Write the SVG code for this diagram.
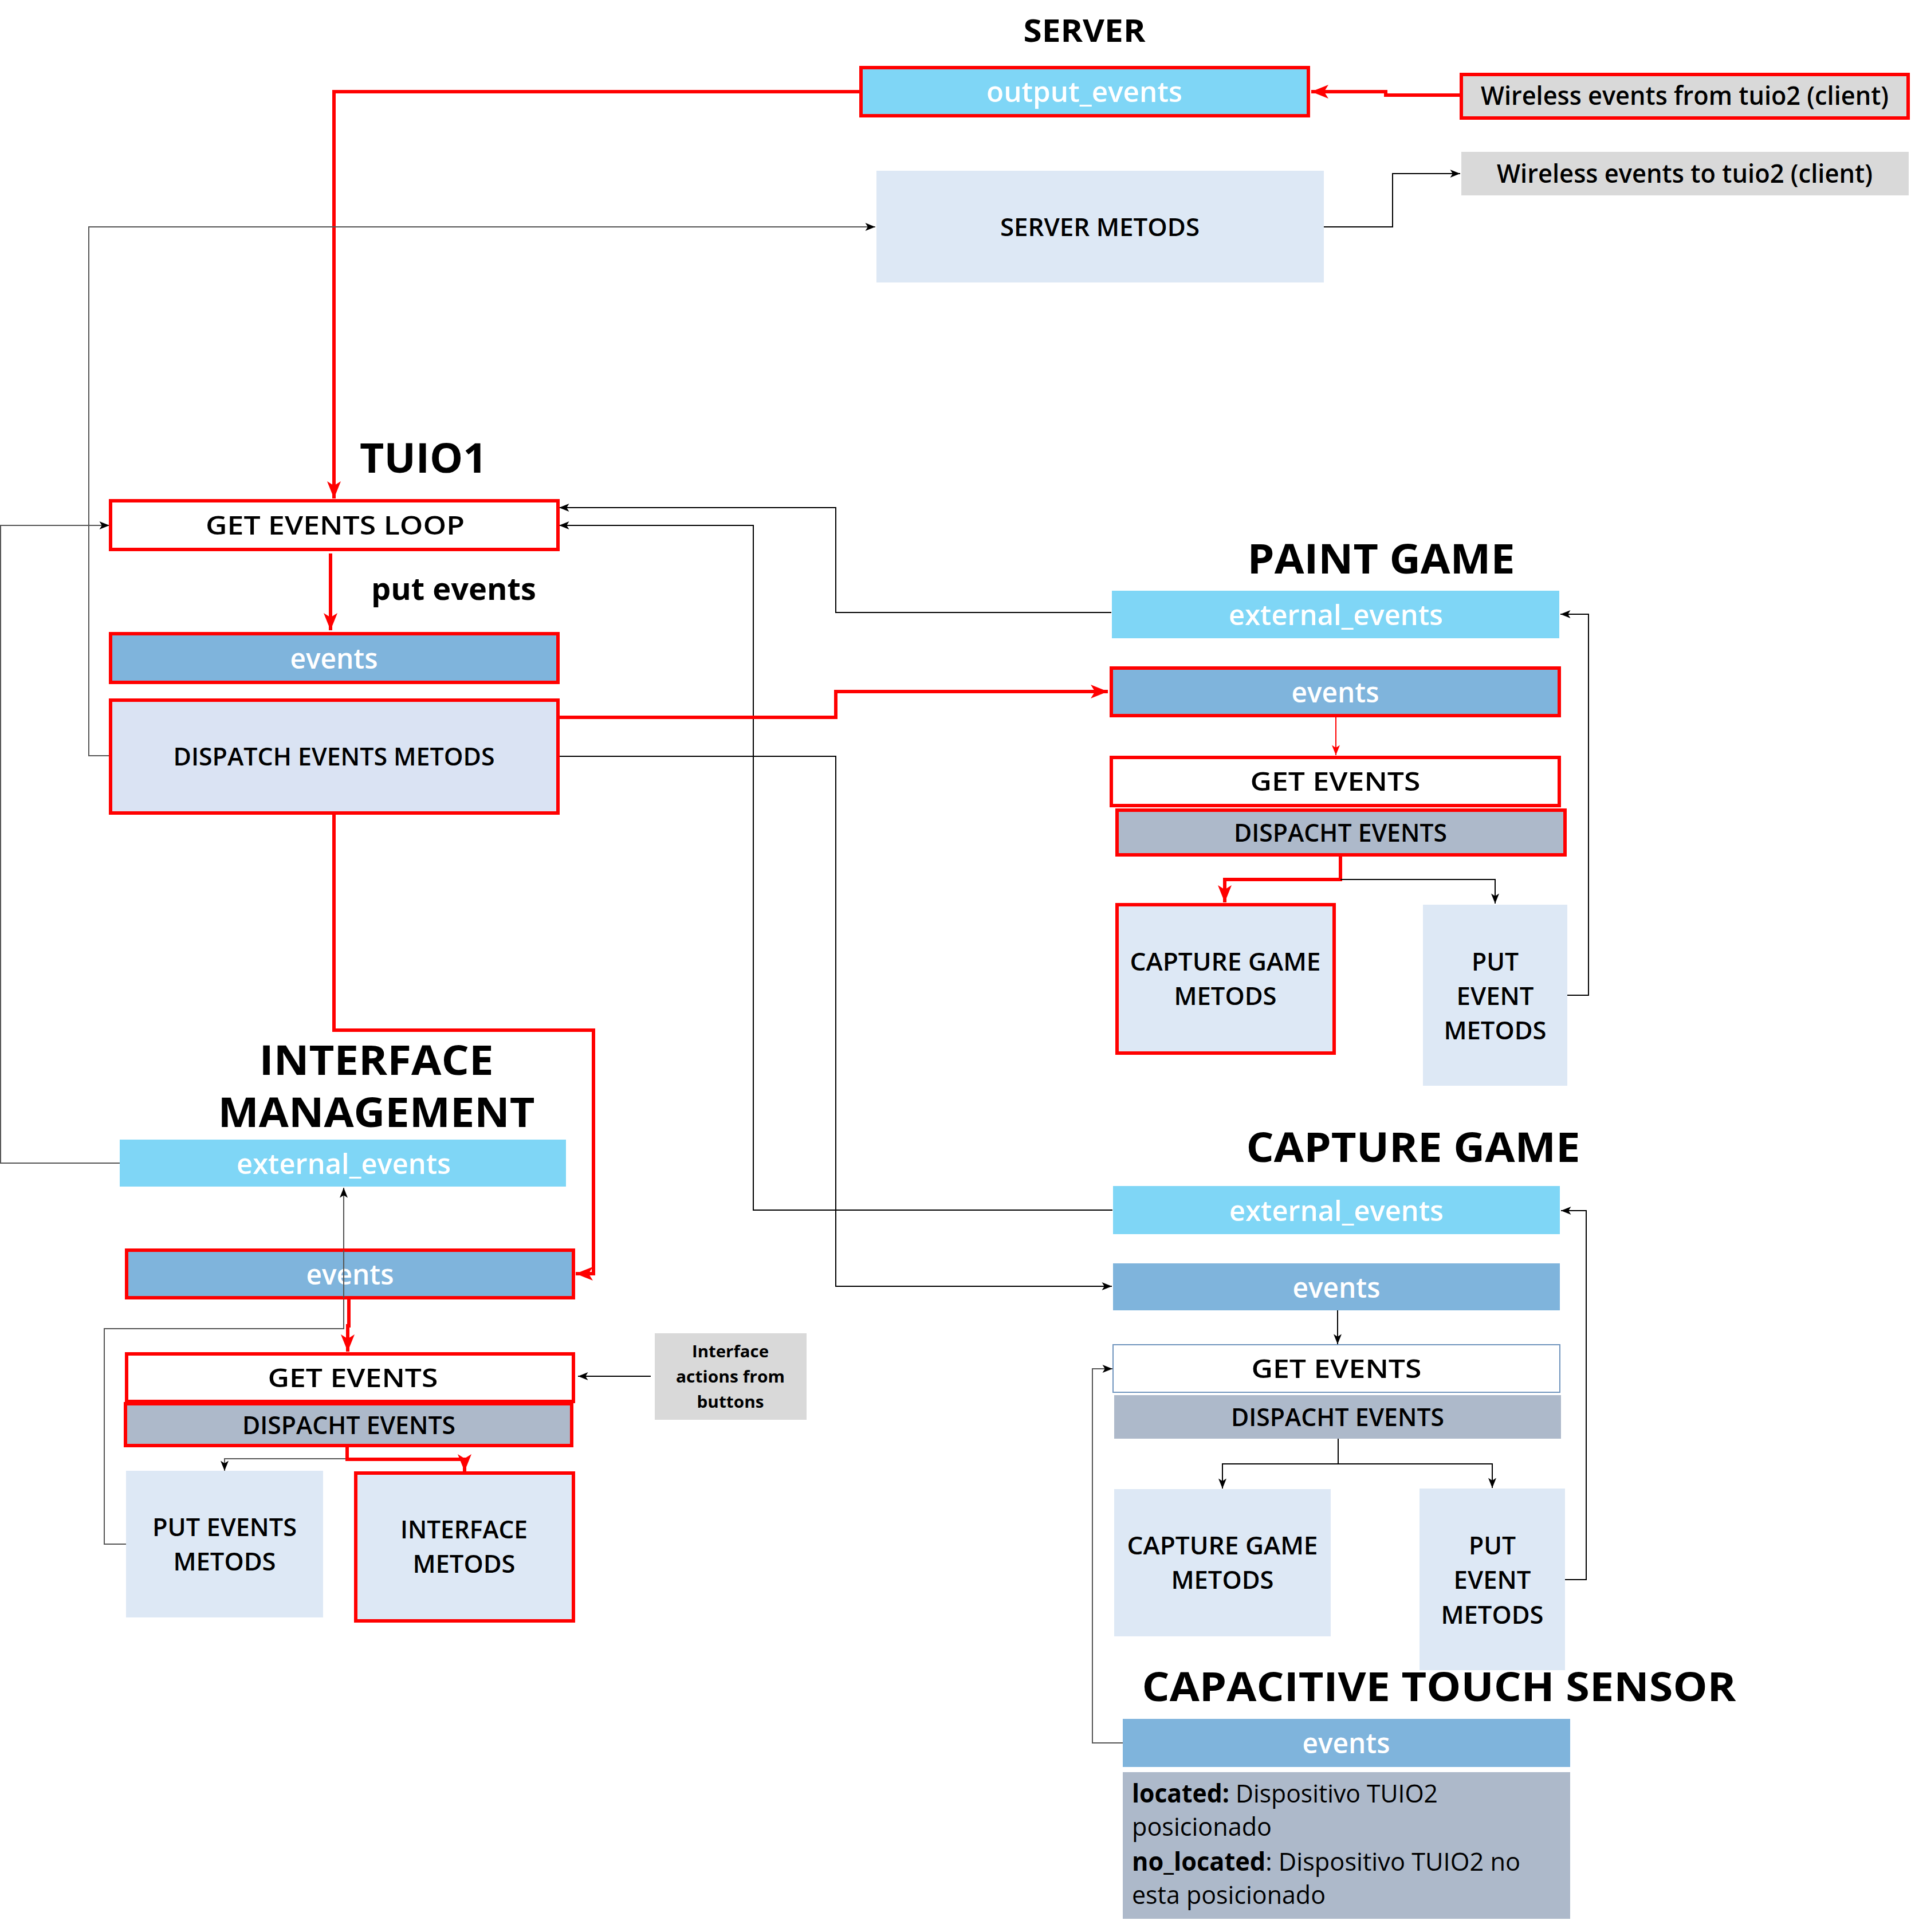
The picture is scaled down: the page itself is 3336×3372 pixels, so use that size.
<svg xmlns="http://www.w3.org/2000/svg" width="3336" height="3372" viewBox="0 0 3336 3372">
<defs>
<style>
.t{font-family:"Open Sans","Noto Sans","Liberation Sans",sans-serif;}
.title{font-family:"Open Sans","Noto Sans",sans-serif;font-weight:700;fill:#000;text-anchor:middle;}
.lbl{font-family:"Open Sans","Noto Sans",sans-serif;font-weight:600;fill:#000;text-anchor:middle;font-size:44px;}
.lbl46{font-size:46px;}
.small{font-family:"Open Sans","Noto Sans",sans-serif;font-weight:700;fill:#000;text-anchor:middle;font-size:28px;}
.wlbl{font-family:"Open Sans","Noto Sans",sans-serif;font-weight:600;fill:#fff;text-anchor:middle;font-size:48px;}
.cyan{fill:#7fd6f6;}
.blue{fill:#7fb4dc;}
.pale{fill:#dde8f5;}
.pale2{fill:#dae3f3;}
.gray{fill:#adb9ca;}
.lgray{fill:#d9d9d9;}
.white{fill:#fff;}
.rb{stroke:#ff0000;stroke-width:6;}
.cr{fill:none;stroke:#ff0000;stroke-width:6;}
.cr2{fill:none;stroke:#ff0000;stroke-width:2;}
.ck{fill:none;stroke:#000;stroke-width:2;}
.cg{fill:none;stroke:#555;stroke-width:2;}
</style>
<marker id="ak" viewBox="0 0 20 16" refX="20" refY="8" markerWidth="18" markerHeight="14" orient="auto" markerUnits="userSpaceOnUse">
<path d="M0,0 L20,8 L0,16 L5,8 Z" fill="#000"/>
</marker>
<marker id="ar" viewBox="0 0 20 16" refX="20" refY="8" markerWidth="30" markerHeight="24" orient="auto" markerUnits="userSpaceOnUse">
<path d="M0,0 L20,8 L0,16 L5,8 Z" fill="#ff0000"/>
</marker>
<marker id="ars" viewBox="0 0 20 16" refX="20" refY="8" markerWidth="18" markerHeight="14" orient="auto" markerUnits="userSpaceOnUse">
<path d="M0,0 L20,8 L0,16 L5,8 Z" fill="#ff0000"/>
</marker>
</defs>
<rect width="3336" height="3372" fill="#fff"/>

<!-- Titles -->
<g id="titles">
<text class="title" x="1893" y="73" font-size="54" textLength="213" lengthAdjust="spacingAndGlyphs">SERVER</text>
<text class="title" x="739" y="825" font-size="72" textLength="222" lengthAdjust="spacingAndGlyphs">TUIO1</text>
<text class="title" x="2411" y="1001" font-size="72" textLength="467" lengthAdjust="spacingAndGlyphs">PAINT GAME</text>
<text class="title" x="657" y="1876" font-size="72" textLength="409" lengthAdjust="spacingAndGlyphs">INTERFACE</text>
<text class="title" x="657" y="1967" font-size="72" textLength="553" lengthAdjust="spacingAndGlyphs">MANAGEMENT</text>
<text class="title" x="2467" y="2028" font-size="72" textLength="583" lengthAdjust="spacingAndGlyphs">CAPTURE GAME</text>
<text class="title" x="2512" y="2969" font-size="70" textLength="1037" lengthAdjust="spacingAndGlyphs">CAPACITIVE TOUCH SENSOR</text>
<text class="title" x="792" y="1047" font-size="54" textLength="288" lengthAdjust="spacingAndGlyphs">put events</text>
</g>

<!-- Connectors -->
<g id="connectors">
<!-- server -->
<path class="cr" d="M2551,166 H2419 V160 H2289" marker-end="url(#ar)"/>
<path class="cr" d="M1503,160 H583 V870" marker-end="url(#ar)"/>
<path class="ck" d="M2311,396 H2431 V303 H2549" marker-end="url(#ak)"/>
<path class="cg" d="M193,1319 H155 V396 H1528" marker-end="url(#ak)"/>
<!-- tuio1 -->
<path class="cr" d="M577,966 V1100" marker-end="url(#ar)" stroke-width="5"/>
<path class="ck" d="M1940,1069 H1459 V886 H976" marker-end="url(#ak)"/>
<path class="ck" d="M1942,2112 H1315 V917 H976" marker-end="url(#ak)"/>
<path class="cg" d="M209,2030 H1 V917 H191" marker-end="url(#ak)"/>
<path class="cr" d="M974,1252 H1459 V1207 H1934" marker-end="url(#ar)"/>
<path class="ck" d="M974,1320 H1459 V2245 H1941" marker-end="url(#ak)"/>
<path class="cr" d="M583,1419 V1798 H1036 V2223 H1005" marker-end="url(#ar)"/>
<!-- paint game -->
<path class="cr2" d="M2332,1249 V1318" marker-end="url(#ars)"/>
<path class="cr" d="M2340,1492 V1535 H2138 V1575" marker-end="url(#ar)"/>
<path class="ck" d="M2340,1535 H2610 V1577" marker-end="url(#ak)"/>
<path class="ck" d="M2736,1737 H2773 V1072 H2724" marker-end="url(#ak)"/>
<!-- interface -->
<path class="cg" d="M220,2695 H182 V2319 H600 V2073" marker-end="url(#ak)"/>
<path class="cr" d="M609,2265 V2314 H607 V2359" marker-end="url(#ar)" stroke-width="5"/>
<path class="ck" d="M1136,2402 H1009" marker-end="url(#ak)"/>
<path class="cg" d="M606,2546 H392 V2567" marker-end="url(#ak)"/>
<path class="cr" d="M606,2523 V2547 H811 V2568" marker-end="url(#ar)"/>
<!-- capture game -->
<path class="ck" d="M2335,2287 V2346" marker-end="url(#ak)"/>
<path class="ck" d="M2336,2511 V2555 H2134 V2598" marker-end="url(#ak)"/>
<path class="ck" d="M2336,2555 H2605 V2597" marker-end="url(#ak)"/>
<path class="ck" d="M2732,2757 H2769 V2113 H2725" marker-end="url(#ak)"/>
<path class="cg" d="M1960,3042 H1907 V2389 H1942" marker-end="url(#ak)"/>
</g>

<!-- SERVER -->
<g id="output_events">
<rect class="cyan rb" x="1503" y="118" width="781" height="84"/>
<text class="wlbl" x="1893" y="178" textLength="342" lengthAdjust="spacingAndGlyphs">output_events</text>
</g>
<g id="wireless_from">
<rect class="lgray rb" x="2551" y="130" width="780" height="76"/>
<text class="lbl lbl46" x="2941" y="183" textLength="712" lengthAdjust="spacingAndGlyphs">Wireless events from tuio2 (client)</text>
</g>
<g id="wireless_to">
<rect class="lgray" x="2551" y="265" width="781" height="76"/>
<text class="lbl lbl46" x="2941" y="319" textLength="656" lengthAdjust="spacingAndGlyphs">Wireless events to tuio2 (client)</text>
</g>
<g id="server_metods">
<rect class="pale" x="1530" y="298" width="781" height="195"/>
<text class="lbl" x="1920" y="412" textLength="348" lengthAdjust="spacingAndGlyphs">SERVER METODS</text>
</g>

<!-- TUIO1 -->
<g id="tuio_get_events_loop">
<rect class="white rb" x="193" y="874" width="781" height="85"/>
<text class="lbl lbl46" x="585" y="933" textLength="452" lengthAdjust="spacingAndGlyphs">GET EVENTS LOOP</text>
</g>
<g id="tuio_events">
<rect class="blue rb" x="193" y="1106" width="781" height="85"/>
<text class="wlbl" x="583" y="1167" textLength="153" lengthAdjust="spacingAndGlyphs">events</text>
</g>
<g id="tuio_dispatch">
<rect class="pale2 rb" x="193" y="1222" width="781" height="197"/>
<text class="lbl" x="583" y="1336" textLength="561" lengthAdjust="spacingAndGlyphs">DISPATCH EVENTS METODS</text>
</g>

<!-- PAINT GAME -->
<g id="paint_external_events">
<rect class="cyan" x="1941" y="1031" width="781" height="83"/>
<text class="wlbl" x="2332" y="1091" textLength="374" lengthAdjust="spacingAndGlyphs">external_events</text>
</g>
<g id="paint_events">
<rect class="blue rb" x="1940" y="1166" width="782" height="83"/>
<text class="wlbl" x="2331" y="1226" textLength="153" lengthAdjust="spacingAndGlyphs">events</text>
</g>
<g id="paint_get_events">
<rect class="white rb" x="1940" y="1322" width="782" height="84"/>
<text class="lbl lbl46" x="2331" y="1380" textLength="297" lengthAdjust="spacingAndGlyphs">GET EVENTS</text>
</g>
<g id="paint_dispacht">
<rect class="gray rb" x="1950" y="1414" width="782" height="78"/>
<text class="lbl" x="2340" y="1469" textLength="372" lengthAdjust="spacingAndGlyphs">DISPACHT EVENTS</text>
</g>
<g id="paint_capture_metods">
<rect class="pale rb" x="1950" y="1579" width="379" height="259"/>
<text class="lbl" x="2139" y="1694" textLength="333" lengthAdjust="spacingAndGlyphs">CAPTURE GAME</text>
<text class="lbl" x="2139" y="1754" textLength="179" lengthAdjust="spacingAndGlyphs">METODS</text>
</g>
<g id="paint_put_metods">
<rect class="pale" x="2484" y="1579" width="252" height="316"/>
<text class="lbl" x="2610" y="1694" textLength="82" lengthAdjust="spacingAndGlyphs">PUT</text>
<text class="lbl" x="2610" y="1754" textLength="135" lengthAdjust="spacingAndGlyphs">EVENT</text>
<text class="lbl" x="2610" y="1814" textLength="179" lengthAdjust="spacingAndGlyphs">METODS</text>
</g>

<!-- INTERFACE MANAGEMENT -->
<g id="iface_external_events">
<rect class="cyan" x="209" y="1989" width="779" height="82"/>
<text class="wlbl" x="600" y="2049" textLength="374" lengthAdjust="spacingAndGlyphs">external_events</text>
</g>
<g id="iface_events">
<rect class="blue rb" x="221" y="2182" width="780" height="83"/>
<text class="wlbl" x="611" y="2242" textLength="153" lengthAdjust="spacingAndGlyphs">events</text>
<path d="M600,2182 V2265" stroke="#555" stroke-width="2"/>
</g>
<g id="iface_get_events">
<rect class="white rb" x="221" y="2363" width="780" height="83"/>
<text class="lbl lbl46" x="616" y="2421" textLength="297" lengthAdjust="spacingAndGlyphs">GET EVENTS</text>
</g>
<g id="iface_dispacht">
<rect class="gray rb" x="219" y="2450" width="779" height="73"/>
<text class="lbl" x="609" y="2503" textLength="372" lengthAdjust="spacingAndGlyphs">DISPACHT EVENTS</text>
</g>
<g id="iface_buttons">
<rect class="lgray" x="1143" y="2327" width="265" height="151"/>
<text class="small" x="1275" y="2369" textLength="134" lengthAdjust="spacingAndGlyphs">Interface</text>
<text class="small" x="1275" y="2413" textLength="190" lengthAdjust="spacingAndGlyphs">actions from</text>
<text class="small" x="1275" y="2457" textLength="117" lengthAdjust="spacingAndGlyphs">buttons</text>
</g>
<g id="iface_put_metods">
<rect class="pale" x="220" y="2567" width="344" height="256"/>
<text class="lbl" x="392" y="2681" textLength="252" lengthAdjust="spacingAndGlyphs">PUT EVENTS</text>
<text class="lbl" x="392" y="2741" textLength="179" lengthAdjust="spacingAndGlyphs">METODS</text>
</g>
<g id="iface_interface_metods">
<rect class="pale rb" x="621" y="2571" width="380" height="258"/>
<text class="lbl" x="810" y="2685" textLength="222" lengthAdjust="spacingAndGlyphs">INTERFACE</text>
<text class="lbl" x="810" y="2745" textLength="179" lengthAdjust="spacingAndGlyphs">METODS</text>
</g>

<!-- CAPTURE GAME -->
<g id="capture_external_events">
<rect class="cyan" x="1943" y="2070" width="780" height="84"/>
<text class="wlbl" x="2333" y="2131" textLength="374" lengthAdjust="spacingAndGlyphs">external_events</text>
</g>
<g id="capture_events">
<rect class="blue" x="1943" y="2205" width="780" height="82"/>
<text class="wlbl" x="2333" y="2265" textLength="153" lengthAdjust="spacingAndGlyphs">events</text>
</g>
<g id="capture_get_events">
<rect class="white" x="1943" y="2347" width="780" height="83" stroke="#6f94bd" stroke-width="2"/>
<text class="lbl lbl46" x="2333" y="2405" textLength="297" lengthAdjust="spacingAndGlyphs">GET EVENTS</text>
</g>
<g id="capture_dispacht">
<rect class="gray" x="1945" y="2435" width="780" height="76"/>
<text class="lbl" x="2335" y="2489" textLength="372" lengthAdjust="spacingAndGlyphs">DISPACHT EVENTS</text>
</g>
<g id="capture_capture_metods">
<rect class="pale" x="1945" y="2599" width="378" height="257"/>
<text class="lbl" x="2134" y="2713" textLength="333" lengthAdjust="spacingAndGlyphs">CAPTURE GAME</text>
<text class="lbl" x="2134" y="2773" textLength="179" lengthAdjust="spacingAndGlyphs">METODS</text>
</g>
<g id="capture_put_metods">
<rect class="pale" x="2478" y="2598" width="254" height="317"/>
<text class="lbl" x="2605" y="2713" textLength="82" lengthAdjust="spacingAndGlyphs">PUT</text>
<text class="lbl" x="2605" y="2773" textLength="135" lengthAdjust="spacingAndGlyphs">EVENT</text>
<text class="lbl" x="2605" y="2834" textLength="179" lengthAdjust="spacingAndGlyphs">METODS</text>
</g>

<!-- CAPACITIVE TOUCH SENSOR -->
<g id="cap_events">
<rect class="blue" x="1960" y="3000" width="781" height="84"/>
<text class="wlbl" x="2350" y="3060" textLength="153" lengthAdjust="spacingAndGlyphs">events</text>
</g>
<g id="cap_info">
<rect class="gray" x="1960" y="3093" width="781" height="256"/>
<text class="t" x="1976" y="3146" font-size="44" fill="#000" textLength="534" lengthAdjust="spacingAndGlyphs"><tspan font-weight="700">located:</tspan> Dispositivo TUIO2</text>
<text class="t" x="1976" y="3204" font-size="44" fill="#000" textLength="244" lengthAdjust="spacingAndGlyphs">posicionado</text>
<text class="t" x="1976" y="3265" font-size="44" fill="#000" textLength="678" lengthAdjust="spacingAndGlyphs"><tspan font-weight="700">no_located</tspan>: Dispositivo TUIO2 no</text>
<text class="t" x="1976" y="3323" font-size="44" fill="#000" textLength="338" lengthAdjust="spacingAndGlyphs">esta posicionado</text>
</g>
</svg>
